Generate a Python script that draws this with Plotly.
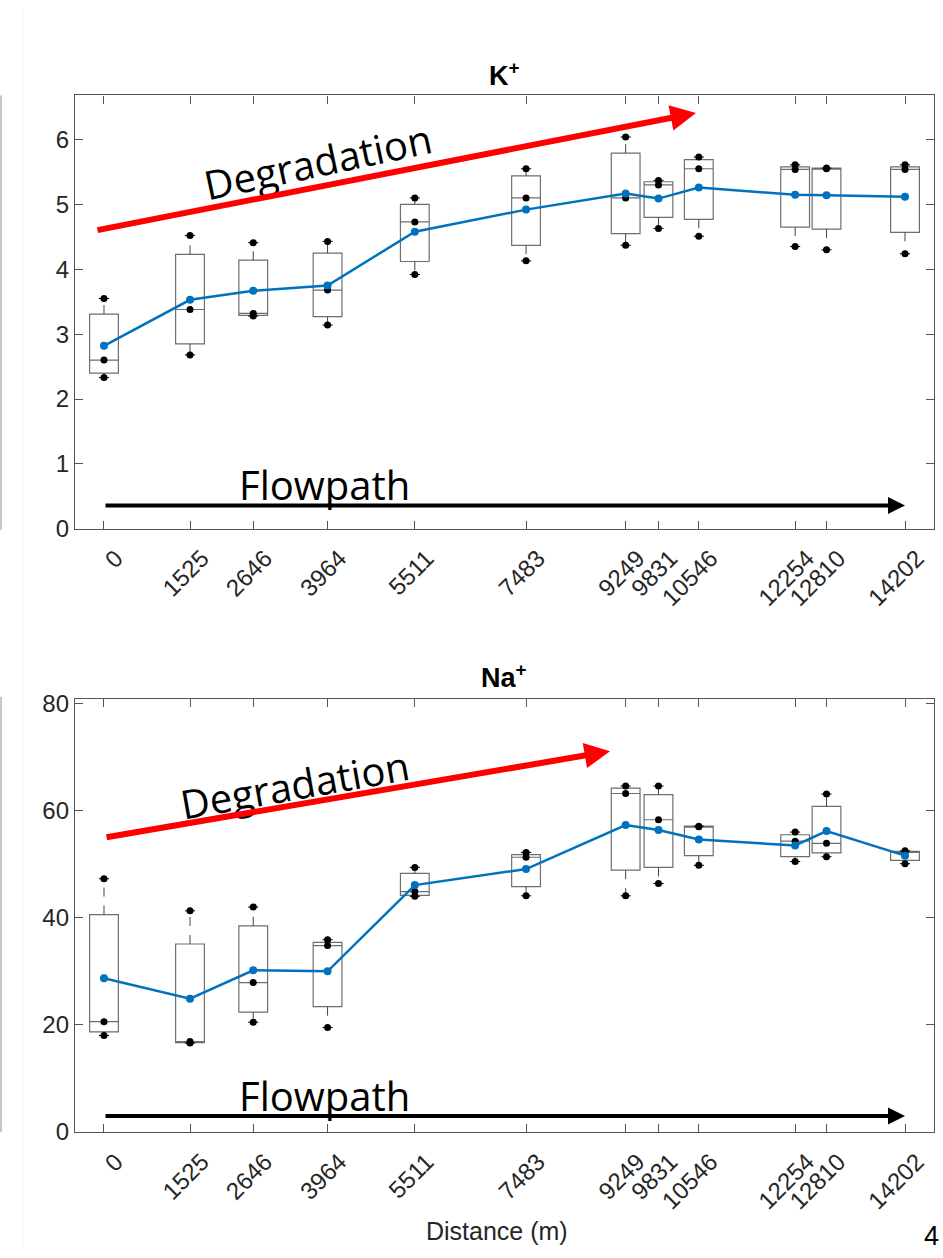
import plotly.graph_objects as go

W, H = 943, 1258

# ---------------- data ----------------
distance = [0, 1525, 2646, 3964, 5511, 7483, 9249, 9831, 10546, 12254, 12810, 14202]
tick_labels = [str(d) for d in distance]

# K+ samples (three per station), box quartiles and mean
k_low = [2.33, 2.68, 3.28, 3.14, 3.92, 4.13, 4.37, 4.63, 4.51, 4.35, 4.30, 4.24]
k_mid = [2.60, 3.38, 3.32, 3.68, 4.73, 5.10, 5.10, 5.30, 5.55, 5.54, 5.55, 5.54]
k_high = [3.55, 4.52, 4.41, 4.43, 5.10, 5.55, 6.04, 5.37, 5.73, 5.61, 5.56, 5.61]
k_q1 = [2.40, 2.85, 3.29, 3.27, 4.12, 4.37, 4.55, 4.80, 4.77, 4.65, 4.62, 4.57]
k_q3 = [3.31, 4.23, 4.14, 4.25, 5.00, 5.44, 5.79, 5.35, 5.69, 5.58, 5.56, 5.58]
k_mean = [2.82, 3.53, 3.67, 3.75, 4.58, 4.92, 5.17, 5.09, 5.26, 5.15, 5.14, 5.12]

# Na+ samples, box quartiles and mean
na_low = [18.0, 16.6, 20.5, 19.5, 44.0, 44.1, 44.1, 46.4, 49.8, 50.5, 51.4, 50.1]
na_mid = [20.6, 16.9, 27.9, 34.8, 44.9, 51.3, 63.2, 58.3, 57.0, 54.3, 53.9, 52.2]
na_high = [47.3, 41.3, 42.0, 35.9, 49.4, 52.2, 64.6, 64.6, 57.1, 56.0, 63.1, 52.5]
na_q1 = [18.7, 16.7, 22.4, 23.4, 44.2, 45.8, 48.9, 49.4, 51.6, 51.4, 52.1, 50.7]
na_q3 = [40.6, 35.1, 38.5, 35.4, 48.3, 51.8, 64.2, 63.0, 57.1, 55.5, 60.8, 52.4]
na_mean = [28.7, 24.9, 30.2, 30.0, 46.1, 49.1, 57.3, 56.4, 54.6, 53.5, 56.2, 51.6]

# ---------------- style ----------------
BOX_W = 510      # box width in metres
CAP_HALF = 90    # whisker cap half width in metres
BLUE = '#0072BD'
AXC = '#555555'
TXT = '#262626'
FONT = 'Liberation Sans, Arial, sans-serif'


def px_x(p):
    return p / W


def px_y(p):
    return 1 - p / H


fig = go.Figure()


def add_panel(xa, ya, low, mid, high, q1, q3, mean):
    fig.add_trace(go.Box(
        x=distance, q1=q1, median=mid, q3=q3, lowerfence=q1, upperfence=q3,
        width=BOX_W, whiskerwidth=0, boxpoints=False,
        line=dict(color='#6e6e6e', width=1.2), fillcolor='rgba(0,0,0,0)',
        xaxis=xa, yaxis=ya, showlegend=False, hoverinfo='skip'))
    wx, wy, cx, cy = [], [], [], []
    for d, lo, hi, a, b in zip(distance, low, high, q1, q3):
        wx += [d, d, None, d, d, None]
        wy += [b, hi, None, a, lo, None]
        cx += [d - CAP_HALF, d + CAP_HALF, None, d - CAP_HALF, d + CAP_HALF, None]
        cy += [hi, hi, None, lo, lo, None]
    fig.add_trace(go.Scatter(x=wx, y=wy, mode='lines',
                             line=dict(color='#444444', width=1, dash='dash'),
                             xaxis=xa, yaxis=ya, showlegend=False, hoverinfo='skip'))
    fig.add_trace(go.Scatter(x=cx, y=cy, mode='lines',
                             line=dict(color='#000000', width=1),
                             xaxis=xa, yaxis=ya, showlegend=False, hoverinfo='skip'))
    fig.add_trace(go.Scatter(x=distance * 3, y=low + mid + high, mode='markers',
                             marker=dict(color='black', size=7),
                             xaxis=xa, yaxis=ya, showlegend=False, hoverinfo='skip'))
    fig.add_trace(go.Scatter(x=distance, y=mean, mode='lines+markers',
                             line=dict(color=BLUE, width=2.5),
                             marker=dict(color=BLUE, size=8),
                             xaxis=xa, yaxis=ya, showlegend=False))


add_panel('x', 'y', k_low, k_mid, k_high, k_q1, k_q3, k_mean)
add_panel('x2', 'y2', na_low, na_mid, na_high, na_q1, na_q3, na_mean)

xcommon = dict(range=[-514, 14716], tickmode='array', tickvals=distance, ticktext=tick_labels,
               tickangle=-45, ticks='inside', ticklen=8, tickcolor=AXC, tickwidth=1,
               showline=True, linecolor=AXC, linewidth=1.3, mirror='ticks',
               showgrid=False, zeroline=False, ticklabelshift=12, ticklabelstandoff=5,
               tickfont=dict(family=FONT, size=24, color=TXT))
ycommon = dict(ticks='inside', ticklen=8, tickcolor=AXC, tickwidth=1,
               showline=True, linecolor=AXC, linewidth=1.3, mirror='ticks',
               showgrid=False, zeroline=False,
               tickfont=dict(family=FONT, size=24, color=TXT))

xdom = [px_x(75), px_x(934)]
fig.update_layout(
    width=W, height=H, margin=dict(l=0, r=0, t=0, b=0),
    paper_bgcolor='white', plot_bgcolor='white', showlegend=False,
    xaxis=dict(domain=xdom, anchor='y', **xcommon),
    yaxis=dict(domain=[px_y(529), px_y(88)], anchor='x', range=[0, 6.68], dtick=1, **ycommon),
    xaxis2=dict(domain=xdom, anchor='y2', **xcommon),
    yaxis2=dict(domain=[px_y(1143), px_y(702)], anchor='x2', range=[0, 80.9], dtick=20, **ycommon),
)

ann = []
# titles
ann.append(dict(text='<b>K<sup>+</sup></b>', x=px_x(504), y=px_y(66), xref='paper', yref='paper',
                showarrow=False, xanchor='center', yanchor='middle',
                font=dict(family=FONT, size=27, color='black')))
ann.append(dict(text='<b>Na<sup>+</sup></b>', x=px_x(504), y=px_y(679), xref='paper', yref='paper',
                showarrow=False, xanchor='center', yanchor='middle',
                font=dict(family=FONT, size=27, color='black')))
# axis label and page number
ann.append(dict(text='Distance (m)', x=px_x(497), y=px_y(1244), xref='paper', yref='paper',
                showarrow=False, xanchor='center', yanchor='middle',
                font=dict(family=FONT, size=25, color=TXT)))
ann.append(dict(text='4', x=px_x(931), y=px_y(1232), xref='paper', yref='paper',
                showarrow=False, xanchor='center', yanchor='top',
                font=dict(family=FONT, size=27, color='black')))
# Degradation / Flowpath texts
ann.append(dict(text='Degradation', x=px_x(317), y=px_y(155), xref='paper', yref='paper',
                showarrow=False, xanchor='center', yanchor='middle', textangle=-12,
                font=dict(family='Open Sans, sans-serif', size=40, color='black')))
ann.append(dict(text='Degradation', x=px_x(294), y=px_y(789), xref='paper', yref='paper',
                showarrow=False, xanchor='center', yanchor='middle', textangle=-10,
                font=dict(family='Open Sans, sans-serif', size=40, color='black')))
ann.append(dict(text='Flowpath', x=px_x(324), y=px_y(484), xref='paper', yref='paper',
                showarrow=False, xanchor='center', yanchor='middle',
                font=dict(family='Open Sans, sans-serif', size=40, color='black')))
ann.append(dict(text='Flowpath', x=px_x(324), y=px_y(1106), xref='paper', yref='paper',
                showarrow=False, xanchor='center', yanchor='middle',
                font=dict(family='Open Sans, sans-serif', size=40, color='black')))
# arrows
ann.append(dict(text='', x=10496, y=6.41, ax=-142, ay=4.60, xref='x', yref='y', axref='x', ayref='y',
                showarrow=True, arrowhead=2, arrowsize=0.85, arrowwidth=6, arrowcolor='#FF0000'))
ann.append(dict(text='', x=8972, y=71.1, ax=18, ay=55.0, xref='x2', yref='y2', axref='x2', ayref='y2',
                showarrow=True, arrowhead=2, arrowsize=0.85, arrowwidth=6, arrowcolor='#FF0000'))
ann.append(dict(text='', x=14202, y=0.36, ax=0, ay=0.36, xref='x', yref='y', axref='x', ayref='y',
                showarrow=True, arrowhead=2, arrowsize=0.85, arrowwidth=4, arrowcolor='black'))
ann.append(dict(text='', x=14202, y=3.0, ax=0, ay=3.0, xref='x2', yref='y2', axref='x2', ayref='y2',
                showarrow=True, arrowhead=2, arrowsize=0.85, arrowwidth=4, arrowcolor='black'))
fig.update_layout(annotations=ann)

# faint cropping edges at the left
fig.update_layout(shapes=[
    dict(type='line', xref='paper', yref='paper', x0=px_x(1), x1=px_x(1), y0=px_y(88), y1=px_y(530),
         line=dict(color='#c8c8c8', width=2)),
    dict(type='line', xref='paper', yref='paper', x0=px_x(1), x1=px_x(1), y0=px_y(700), y1=px_y(1143),
         line=dict(color='#c8c8c8', width=2)),
    dict(type='line', xref='paper', yref='paper', x0=px_x(23), x1=px_x(23), y0=0, y1=1,
         line=dict(color='#f3f3f3', width=1)),
])

fig.write_html('out.html')
